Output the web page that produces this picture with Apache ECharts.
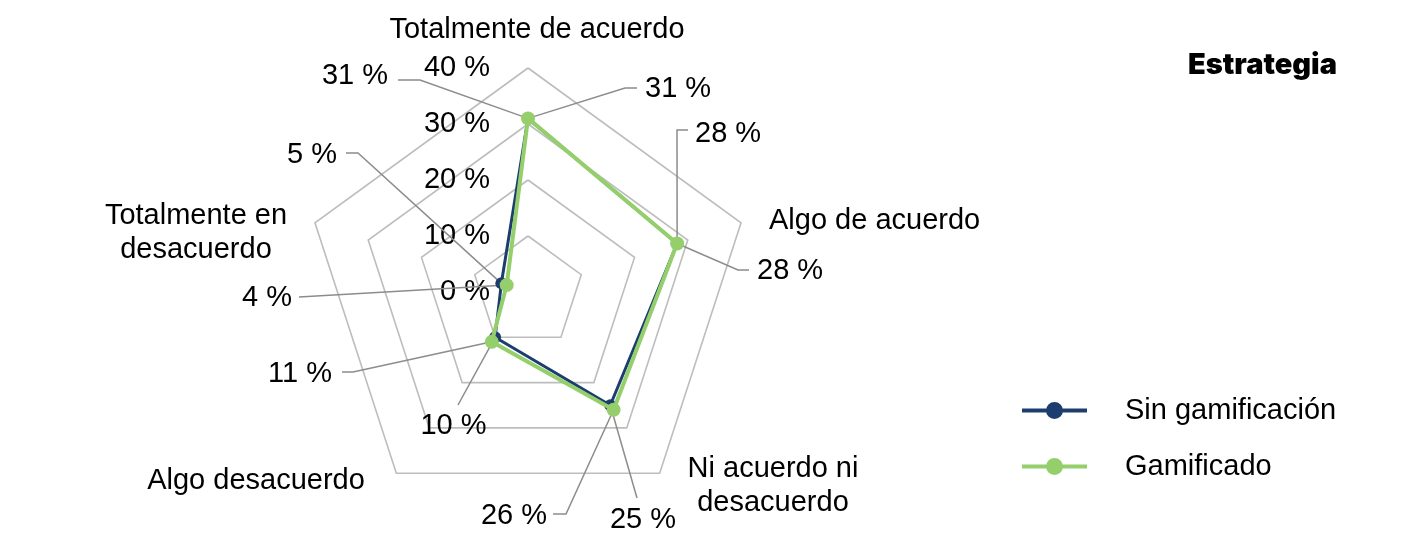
<!DOCTYPE html>
<html>
<head>
<meta charset="utf-8">
<script src="https://cdn.jsdelivr.net/npm/echarts@6/dist/echarts.min.js"></script>
<style>
html,body{margin:0;padding:0;background:#fff;}
#chart{width:1425px;height:540px;}
</style>
</head>
<body>
<div id="chart"></div>
<script>
// ---------- data ----------
const categories = ['Totalmente de acuerdo', 'Algo de acuerdo', 'Ni acuerdo ni\ndesacuerdo', 'Algo desacuerdo', 'Totalmente en\ndesacuerdo'];
const seriesNames = ['Sin gamificación', 'Gamificado'];
const sinGamificacion = [31, 28, 25, 10, 5];
const gamificado = [31, 28, 26, 11, 4];
const axisTicks = [0, 10, 20, 30, 40];
const chartTitle = 'Estrategia';

// ---------- styling / layout ----------
const FONT = '"Liberation Sans", Arial, Helvetica, sans-serif';
const FS = 29;
const TEXT_DY = 2.5;
const colors = ['#1c3e6e', '#94cf6c'];
const lineWidths = [3, 4];
const symbolSizes = [12, 14];
const LEADER = '#8c8c8c';

// categories are listed clockwise from top; ECharts places indicators counter-clockwise
const displayOrder = [0, 4, 3, 2, 1];

// category name placement (x, middle y, align)
const nameLayout = [
  { x: 537, y: 27, align: 'center' },
  { x: 769, y: 218, align: 'left' },
  { x: 773, y: 483.5, align: 'center' },
  { x: 256, y: 478, align: 'center' },
  { x: 196, y: 230, align: 'center' }
];

// data label placement per series per category (leader line kink, end, text anchor)
const labelLayout = [
  [
    { kink: [420, 80], end: [398, 80], text: [388, 73], align: 'right' },
    { kink: [677, 130], end: [688, 130], text: [695, 131.5], align: 'left' },
    { kink: null, end: [637, 498], text: [643, 517], align: 'center' },
    { kink: null, end: [458, 405], text: [453.5, 423.5], align: 'center' },
    { kink: [358, 153], end: [346, 153], text: [337, 152.5], align: 'right' }
  ],
  [
    { kink: [625, 88], end: [637, 88], text: [645, 86.5], align: 'left' },
    { kink: [738, 270], end: [749, 270], text: [757, 268.5], align: 'left' },
    { kink: [566, 514], end: [553, 514], text: [547, 513], align: 'right' },
    { kink: [353, 372], end: [342, 372], text: [332, 371.5], align: 'right' },
    { kink: null, end: [299, 297], text: [292, 295], align: 'right' }
  ]
];

const legendIcon = 'path://M0,6.5H65V10.5H0Z M24,8.5A8.5,8.5 0 1,1 41,8.5A8.5,8.5 0 1,1 24,8.5Z';

const seriesValues = [sinGamificacion, gamificado];
const axisMax = axisTicks[axisTicks.length - 1];

const indicator = displayOrder.map(function (ci, k) {
  const ind = { name: categories[ci], min: axisTicks[0], max: axisMax };
  ind.axisLabel = k === 0
    ? { show: true, formatter: '{value} %', margin: 38, color: '#000', fontSize: FS, fontFamily: FONT, padding: [5, 0, 0, 0] }
    : { show: false };
  return ind;
});

const chart = echarts.init(document.getElementById('chart'), null, { renderer: 'canvas' });

const series = seriesNames.map(function (name, si) {
  return {
    type: 'radar',
    name: name,
    z: 2 + si,
    symbol: 'circle',
    symbolSize: symbolSizes[si],
    itemStyle: { color: colors[si] },
    lineStyle: { color: colors[si], width: lineWidths[si] },
    data: [{ name: name, value: displayOrder.map(function (ci) { return seriesValues[si][ci]; }) }]
  };
});

chart.setOption({
  animation: false,
  backgroundColor: '#fff',
  title: {
    text: chartTitle,
    right: 88,
    top: 51,
    padding: 0,
    textStyle: { fontFamily: 'Inter, "Liberation Sans", Arial, sans-serif', fontWeight: 900, fontSize: 29, color: '#000' }
  },
  legend: {
    orient: 'vertical',
    left: 1022,
    top: 396,
    padding: 0,
    itemWidth: 65,
    itemHeight: 17,
    itemGap: 27,
    data: seriesNames.map(function (n) { return { name: n, icon: legendIcon }; }),
    textStyle: { fontFamily: FONT, fontSize: FS, color: '#000', padding: [4, 0, 0, 33] }
  },
  radar: {
    center: [528, 292],
    radius: 224,
    startAngle: 90,
    splitNumber: axisTicks.length - 1,
    shape: 'polygon',
    indicator: indicator,
    axisName: { show: false },
    axisLine: { show: false },
    axisTick: { show: false },
    splitArea: { show: false },
    splitLine: { lineStyle: { color: '#bdbdbd', width: 1.6 } }
  },
  series: series
});

// leader lines and value labels, anchored to the points given by the radar coordinate system
const radarCS = chart.getModel().getComponent('radar').coordinateSystem;
const graphics = [];
seriesNames.forEach(function (name, si) {
  displayOrder.forEach(function (ci, k) {
    const v = seriesValues[si][ci];
    const p = radarCS.dataToPoint(v, k);
    const lay = labelLayout[si][ci];
    const pts = [p];
    if (lay.kink) pts.push(lay.kink);
    pts.push(lay.end);
    graphics.push({
      type: 'polyline', z: 1, silent: true,
      shape: { points: pts },
      style: { stroke: LEADER, lineWidth: 1.5, fill: null }
    });
    graphics.push({
      type: 'text', z: 5, silent: true,
      x: lay.text[0], y: lay.text[1] + TEXT_DY,
      style: { text: v + ' %', fill: '#000', font: FS + 'px ' + FONT, align: lay.align, verticalAlign: 'middle' }
    });
  });
});
// category names
displayOrder.forEach(function (ci) {
  const nl = nameLayout[ci];
  graphics.push({
    type: 'text', z: 5, silent: true,
    x: nl.x, y: nl.y + TEXT_DY,
    style: { text: categories[ci], fill: '#000', font: FS + 'px ' + FONT, align: nl.align, verticalAlign: 'middle', lineHeight: 34 }
  });
});
chart.setOption({ graphic: graphics });
</script>
</body>
</html>
